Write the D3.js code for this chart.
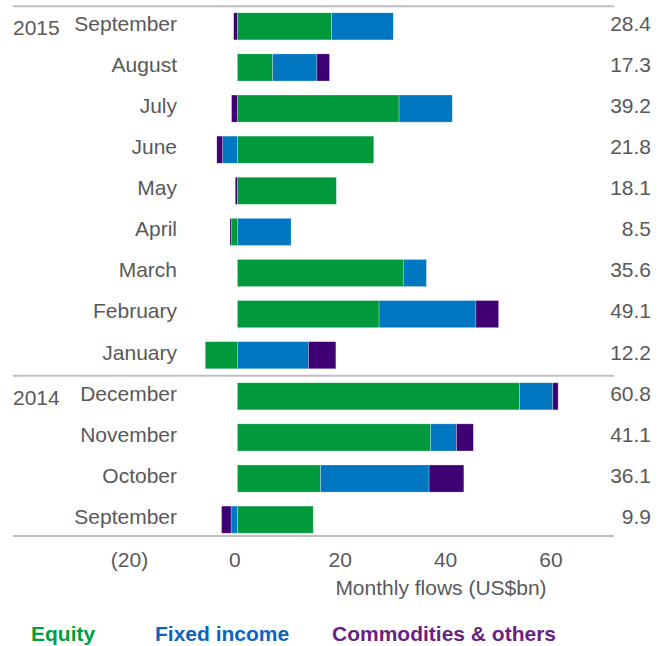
<!DOCTYPE html>
<html>
<head>
<meta charset="utf-8">
<script src="https://cdn.jsdelivr.net/npm/d3@7"></script>
<style>
  body { margin: 0; background: #fff; }
  svg { display: block; font-family: "Liberation Sans", Arial, sans-serif; }
</style>
</head>
<body>
<svg width="666" height="646"></svg>
<script>
(() => {

    // Months, newest first (top to bottom)
    const months = ['September', 'August', 'July', 'June', 'May', 'April', 'March',
            'February', 'January', 'December', 'November', 'October', 'September '];
    const years = [{label: '2015', row: 0}, {label: '2014', row: 9}];

    // Monthly flows by asset class (US$bn)
    const equity      = [17.9, 6.7, 30.7, 25.9, 18.8, -1.1, 31.5, 26.9, -6.1, 53.6, 36.7, 15.8, 14.4];
    const fixedIncome = [11.7, 8.4, 10.1, -2.8, 0, 10.2, 4.4, 18.4, 13.5, 6.3, 4.9, 20.6, -1.2];
    const commodities = [-0.7, 2.4, -1.1, -1.1, -0.4, -0.3, 0, 4.3, 5.2, 1.0, 3.2, 6.6, -1.8];
    const totals = ['28.4', '17.3', '39.2', '21.8', '18.1', '8.5', '35.6', '49.1', '12.2',
            '60.8', '41.1', '36.1', '9.9'];

    const xTicks = [-20, 0, 20, 40, 60];

    const keys = ['equity', 'fixedIncome', 'commodities'];
    const colors = {equity: '#009a3d', fixedIncome: '#0077c0', commodities: '#3f0074'};
    const legend = [
        {label: 'Equity', color: '#00a040', x: 31},
        {label: 'Fixed income', color: '#0b64c0', x: 155},
        {label: 'Commodities & others', color: '#6b1f82', x: 332}
    ];

    const rows = months.map((m, i) => ({
        month: m,
        equity: equity[i],
        fixedIncome: fixedIncome[i],
        commodities: commodities[i]
    }));

    const svg = d3.select('svg');
    const textColor = '#595959';
    const fontSize = 21;

    const x = d3.scaleLinear()
            .domain([-20, 60])
            .range([132, 553.4]);

    const y = d3.scaleBand()
            .domain(months)
            .range([6, 540])
            .paddingInner(0.34)
            .paddingOuter(0.165);

    // text rows sit a little above the middle of the bars
    const labelY = m => y(m) + y.bandwidth() / 2 - 3;

    const series = d3.stack()
            .keys(keys)
            .offset(d3.stackOffsetDiverging)(rows);

    // bars
    svg.append('g')
            .selectAll('g')
            .data(series)
            .enter().append('g')
            .attr('fill', d => colors[d.key])
            .selectAll('rect')
            .data(d => d)
            .enter().append('rect')
            .attr('x', d => x(Math.min(d[0], d[1])))
            .attr('y', d => y(d.data.month))
            .attr('width', d => Math.abs(x(d[1]) - x(d[0])))
            .attr('height', y.bandwidth())
            .attr('stroke', '#ffffff')
            .attr('stroke-opacity', 0.45)
            .attr('stroke-width', 0.6);

    // horizontal rules: top, between years, bottom
    const ruleYs = [6.3, (y(months[8]) + y.bandwidth() + y(months[9])) / 2, 536];
    svg.append('g')
            .selectAll('line')
            .data(ruleYs)
            .enter().append('line')
            .attr('x1', 13)
            .attr('x2', 614)
            .attr('y1', d => d)
            .attr('y2', d => d)
            .attr('stroke', '#bfbfbf')
            .attr('stroke-width', 2);

    // month labels
    svg.append('g')
            .selectAll('text')
            .data(months)
            .enter().append('text')
            .attr('x', 177)
            .attr('y', d => labelY(d))
            .attr('dy', '0.35em')
            .attr('text-anchor', 'end')
            .attr('font-size', fontSize)
            .attr('fill', textColor)
            .text(d => d.trim());

    // year labels
    svg.append('g')
            .selectAll('text')
            .data(years)
            .enter().append('text')
            .attr('x', 13)
            .attr('y', d => y(months[d.row]) + y.bandwidth() / 2 + 1)
            .attr('dy', '0.35em')
            .attr('font-size', fontSize)
            .attr('fill', textColor)
            .text(d => d.label);

    // totals on the right
    svg.append('g')
            .selectAll('text')
            .data(totals)
            .enter().append('text')
            .attr('x', 651)
            .attr('y', (d, i) => labelY(months[i]))
            .attr('dy', '0.35em')
            .attr('text-anchor', 'end')
            .attr('font-size', fontSize)
            .attr('fill', textColor)
            .text(d => d);

    // x axis (labels only)
    const xAxis = svg.append('g')
            .attr('transform', 'translate(-3,552)')
            .call(d3.axisBottom(x)
                    .tickValues(xTicks)
                    .tickSize(0)
                    .tickPadding(0)
                    .tickFormat(d => d < 0 ? '(' + Math.abs(d) + ')' : d));
    xAxis.select('.domain').remove();
    xAxis.selectAll('text')
            .attr('font-family', '"Liberation Sans", Arial, sans-serif')
            .attr('font-size', fontSize)
            .attr('fill', textColor)
            .attr('dy', '0.71em');

    svg.append('text')
            .attr('x', 441)
            .attr('y', 595)
            .attr('text-anchor', 'middle')
            .attr('font-size', fontSize)
            .attr('fill', textColor)
            .text('Monthly flows (US$bn)');

    // legend
    svg.append('g')
            .selectAll('text')
            .data(legend)
            .enter().append('text')
            .attr('x', d => d.x)
            .attr('y', 641)
            .attr('font-size', fontSize)
            .attr('font-weight', 'bold')
            .attr('fill', d => d.color)
            .text(d => d.label);

})();
</script>
</body>
</html>
